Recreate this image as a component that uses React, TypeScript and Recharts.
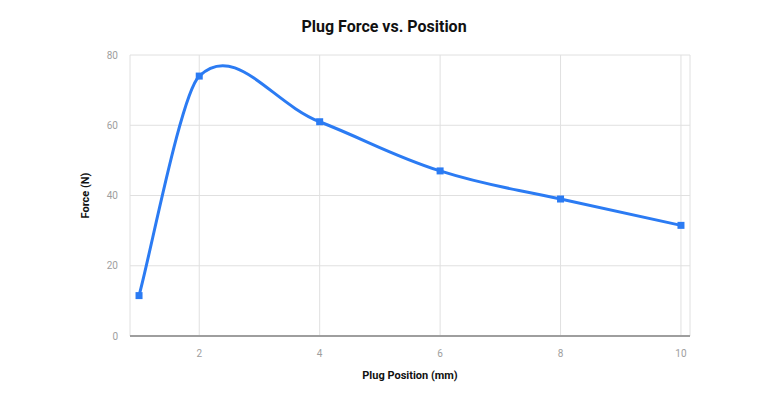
import React from "react";
import { LineChart, Line, XAxis, YAxis, CartesianGrid } from "recharts";

const positions = [1, 2, 4, 6, 8, 10];
const forces = [11.5, 74, 61, 47, 39, 31.5];
const xTicks = [2, 4, 6, 8, 10];
const yTicks = [0, 20, 40, 60, 80];

const data = positions.map((p, i) => ({ pos: p, force: forces[i] }));

const BLUE = "#2b7bf3";
const K = 0.2;

const smoothCurve = (context: any) => {
  let pts: [number, number][] = [];
  return {
    areaStart() {},
    areaEnd() {},
    lineStart() {
      pts = [];
    },
    point(x: number, y: number) {
      pts.push([+x, +y]);
    },
    lineEnd() {
      const n = pts.length;
      if (!n) return;
      const handles = pts.map((p, i) => {
        const prev = pts[Math.max(i - 1, 0)];
        const next = pts[Math.min(i + 1, n - 1)];
        const tx = next[0] - prev[0];
        const ty = next[1] - prev[1];
        const hPrev = p[0] - prev[0];
        const hNext = next[0] - p[0];
        const sIn = hPrev > 0 && hNext > 0 ? K * Math.min(1, hPrev / hNext) : K;
        const sOut = hPrev > 0 && hNext > 0 ? K * Math.min(1, hNext / hPrev) : K;
        return {
          inX: p[0] - tx * sIn,
          inY: p[1] - ty * sIn,
          outX: p[0] + tx * sOut,
          outY: p[1] + ty * sOut,
        };
      });
      context.moveTo(pts[0][0], pts[0][1]);
      for (let i = 0; i < n - 1; i++) {
        const a = handles[i];
        const b = handles[i + 1];
        context.bezierCurveTo(a.outX, a.outY, b.inX, b.inY, pts[i + 1][0], pts[i + 1][1]);
      }
    },
  };
};

const SquareDot = (props: any) => {
  const { cx, cy, index } = props;
  if (cx == null || cy == null) return null;
  return <rect key={index} x={cx - 3.5} y={cy - 3.5} width={7} height={7} fill={BLUE} />;
};

export default function App() {
  return (
    <div style={{ position: "absolute", left: 0, top: 0, width: 768, height: 400, background: "#fff" }}>
      <div
        style={{
          position: "absolute",
          left: 0,
          top: 17,
          width: 768,
          textAlign: "center",
          fontFamily: "Roboto, Arial, sans-serif",
          fontWeight: 700,
          fontSize: 16,
          color: "#111",
        }}
      >
        Plug Force vs. Position
      </div>
      <LineChart
        width={768}
        height={400}
        data={data}
        margin={{ top: 55, right: 78, bottom: 34, left: 90 }}
        style={{ position: "absolute", left: 0, top: 0 }}
      >
        <CartesianGrid stroke="#e0e0e0" strokeWidth={1} />
        <XAxis
          dataKey="pos"
          type="number"
          domain={[0.85, 10.15]}
          ticks={xTicks}
          allowDataOverflow
          height={30}
          tickLine={false}
          axisLine={{ stroke: "#9e9e9e", strokeWidth: 2 }}
          tickMargin={8}
          tick={{ fontFamily: "Roboto, Arial, sans-serif", fontSize: 10, fill: "#9e9e9e" }}
          label={{
            value: "Plug Position (mm)",
            position: "bottom",
            offset: 5,
            style: { fontFamily: "Roboto, Arial, sans-serif", fontSize: 11, fontWeight: 700, fill: "#111" },
          }}
        />
        <YAxis
          type="number"
          domain={[0, 80]}
          ticks={yTicks}
          width={40}
          tickLine={false}
          axisLine={false}
          tickMargin={6}
          tick={{ fontFamily: "Roboto, Arial, sans-serif", fontSize: 10, fill: "#9e9e9e" }}
          label={{
            value: "Force (N)",
            angle: -90,
            position: "left",
            offset: 5,
            style: { fontFamily: "Roboto, Arial, sans-serif", fontSize: 11, fontWeight: 700, fill: "#111", textAnchor: "middle" },
          }}
        />
        <Line
          dataKey="force"
          type={smoothCurve as any}
          stroke={BLUE}
          strokeWidth={3}
          dot={<SquareDot />}
          activeDot={false}
          isAnimationActive={false}
        />
      </LineChart>
    </div>
  );
}
